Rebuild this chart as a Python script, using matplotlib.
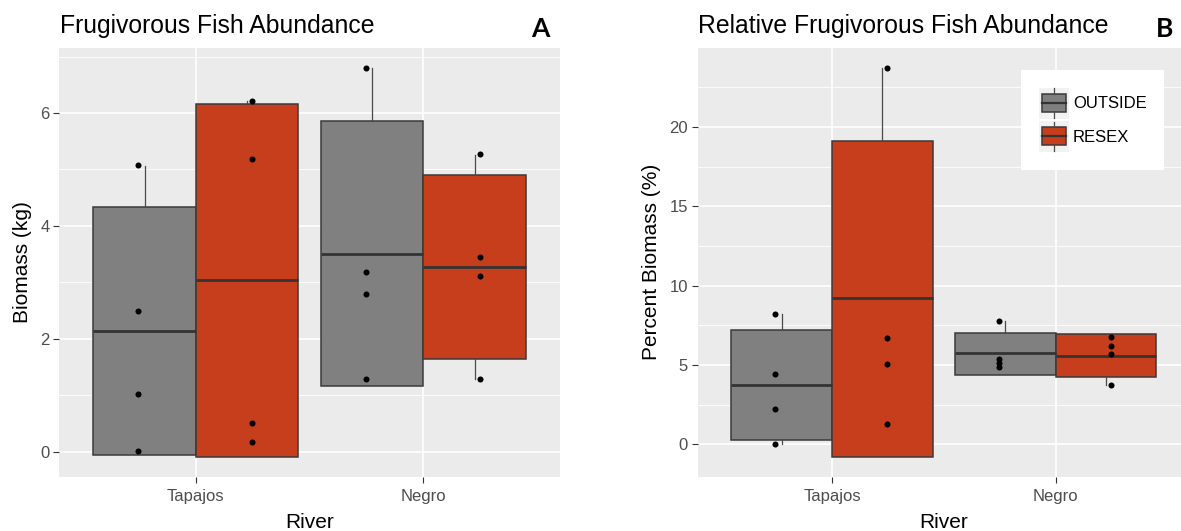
import matplotlib
matplotlib.use("Agg")
import matplotlib.pyplot as plt
import numpy as np
from matplotlib.legend_handler import HandlerBase
from matplotlib.patches import Rectangle
from matplotlib.lines import Line2D

plt.rcParams['font.family'] = ['Liberation Sans', 'DejaVu Sans']

# data (Tapajos, Negro) ; box = [whislo, q1, median, q3, whishi]
rivers = ["Tapajos", "Negro"]
groups = ["OUTSIDE", "RESEX"]

a_outside_box = [[-0.05, -0.05, 2.14, 4.33, 5.06], [1.16, 1.16, 3.51, 5.85, 6.80]]
a_resex_box = [[-0.10, -0.10, 3.04, 6.15, 6.21], [1.28, 1.64, 3.28, 4.90, 5.26]]
a_outside_pts = [[5.07, 2.49, 1.03, 0.01], [6.80, 3.19, 2.79, 1.28]]
a_resex_pts = [[6.21, 5.19, 0.51, 0.18], [5.27, 3.45, 3.11, 1.28]]

b_outside_box = [[0.02, 0.25, 3.72, 7.18, 8.19], [4.39, 4.39, 5.75, 7.01, 7.75]]
b_resex_box = [[-0.82, -0.82, 9.20, 19.13, 23.73], [3.72, 4.22, 5.56, 6.93, 6.93]]
b_outside_pts = [[8.20, 4.43, 2.22, 0.02], [7.78, 5.37, 5.10, 4.85]]
b_resex_pts = [[23.73, 6.72, 5.04, 1.26], [6.78, 6.21, 5.67, 3.72]]

colors = {"OUTSIDE": "#808080", "RESEX": "#C73E1D"}
box_off = {"OUTSIDE": -0.225, "RESEX": 0.225}
pt_off = {"OUTSIDE": -0.253, "RESEX": 0.247}

W, H = 1181, 531
fig = plt.figure(figsize=(W / 100, H / 100), dpi=100)

def draw_panel(ax, boxes, points, ylim, major, minor, ylabel):
    for g in groups:
        for i, r in enumerate(rivers):
            lo, q1, med, q3, hi = boxes[g][i]
            st = dict(whislo=lo, q1=q1, med=med, q3=q3, whishi=hi, fliers=[])
            pos = i + 1 + box_off[g]
            ax.bxp([st], positions=[pos], widths=0.45, patch_artist=True,
                   showcaps=False, showfliers=False,
                   boxprops=dict(facecolor=colors[g], edgecolor="#3a3a3a", linewidth=1.1),
                   medianprops=dict(color="#333333", linewidth=2.0),
                   whiskerprops=dict(color="#4a4a4a", linewidth=0.9),
                   zorder=3)
            y = points[g][i]
            ax.scatter(np.full(len(y), i + 1 + pt_off[g]), y, s=19, color="black",
                       zorder=5, linewidths=0)
    ax.set_facecolor("#EBEBEB")
    ax.set_xlim(0.4, 2.6)
    ax.set_ylim(*ylim)
    ax.set_xticks([1, 2])
    ax.set_xticklabels(rivers)
    ax.set_yticks(major)
    ax.set_yticks(minor, minor=True)
    ax.grid(which="major", color="white", linewidth=1.2)
    ax.grid(which="minor", axis="y", color="white", linewidth=0.6)
    ax.set_axisbelow(True)
    for s in ax.spines.values():
        s.set_visible(False)
    ax.tick_params(which="major", length=4, width=0.8, color="#333333",
                   labelcolor="#4D4D4D", labelsize=12, pad=3)
    ax.tick_params(axis="x", which="major", pad=5)
    ax.tick_params(which="minor", length=0)
    ax.set_xlabel("River", fontsize=15, labelpad=6)
    ax.set_ylabel(ylabel, fontsize=15, labelpad=6)

bot = 1 - 476.7 / H
top = 1 - 47.7 / H
ax1 = fig.add_axes([59.3 / W, bot, (560 - 59.3) / W, top - bot])
ax2 = fig.add_axes([697.7 / W, bot, (1190 - 697.7) / W, top - bot])

draw_panel(ax1, {"OUTSIDE": a_outside_box, "RESEX": a_resex_box},
           {"OUTSIDE": a_outside_pts, "RESEX": a_resex_pts},
           (-0.443, 7.156), [0, 2, 4, 6], [1, 3, 5, 7], "Biomass (kg)")
draw_panel(ax2, {"OUTSIDE": b_outside_box, "RESEX": b_resex_box},
           {"OUTSIDE": b_outside_pts, "RESEX": b_resex_pts},
           (-2.04, 25.0), [0, 5, 10, 15, 20], [2.5, 7.5, 12.5, 17.5, 22.5],
           "Percent Biomass (%)")

fig.text(60 / W, 1 - 33 / H, "Frugivorous Fish Abundance", fontsize=17.8, va="baseline")
fig.text(698 / W, 1 - 33 / H, "Relative Frugivorous Fish Abundance", fontsize=17.8, va="baseline")
fig.text(540.5 / W, 1 - 37 / H, "A", fontsize=19, fontweight="bold", ha="center",
         va="baseline", family=["Lato", "DejaVu Sans"])
fig.text(1165 / W, 1 - 37 / H, "B", fontsize=19, fontweight="bold", ha="center",
         va="baseline", family=["Lato", "DejaVu Sans"])


class BoxKey(HandlerBase):
    def create_artists(self, legend, orig_handle, xdescent, ydescent, width, height,
                       fontsize, trans):
        x0, y0 = -xdescent, -ydescent
        bg = Rectangle((x0, y0), width, height, facecolor="#F2F2F2", edgecolor="none",
                       transform=trans)
        bx = Rectangle((x0 + 0.1 * width, y0 + 0.22 * height), 0.8 * width, 0.58 * height,
                       facecolor=orig_handle.get_facecolor(), edgecolor="#3a3a3a",
                       linewidth=1.1, transform=trans)
        cx = x0 + width / 2
        med = Line2D([x0 + 0.1 * width, x0 + 0.9 * width], [y0 + 0.51 * height] * 2,
                     color="#333333", linewidth=1.6, transform=trans)
        w1 = Line2D([cx, cx], [y0 + 0.8 * height, y0 + 0.97 * height], color="#4a4a4a",
                    linewidth=0.9, transform=trans)
        w2 = Line2D([cx, cx], [y0 + 0.03 * height, y0 + 0.22 * height], color="#4a4a4a",
                    linewidth=0.9, transform=trans)
        return [bg, bx, med, w1, w2]


handles = [Rectangle((0, 0), 1, 1, facecolor=colors[g]) for g in groups]
leg = ax2.legend(handles, groups, handler_map={Rectangle: BoxKey()},
                 loc="upper left", bbox_to_anchor=(0.657, 0.948), borderaxespad=0,
                 fontsize=12, frameon=True, fancybox=False, framealpha=1,
                 edgecolor="white", facecolor="white", handlelength=1.8,
                 handleheight=2.5, labelspacing=0.15, handletextpad=0.25,
                 borderpad=1.05)
leg.get_frame().set_linewidth(0)

fig.savefig("out.png", dpi=100)
